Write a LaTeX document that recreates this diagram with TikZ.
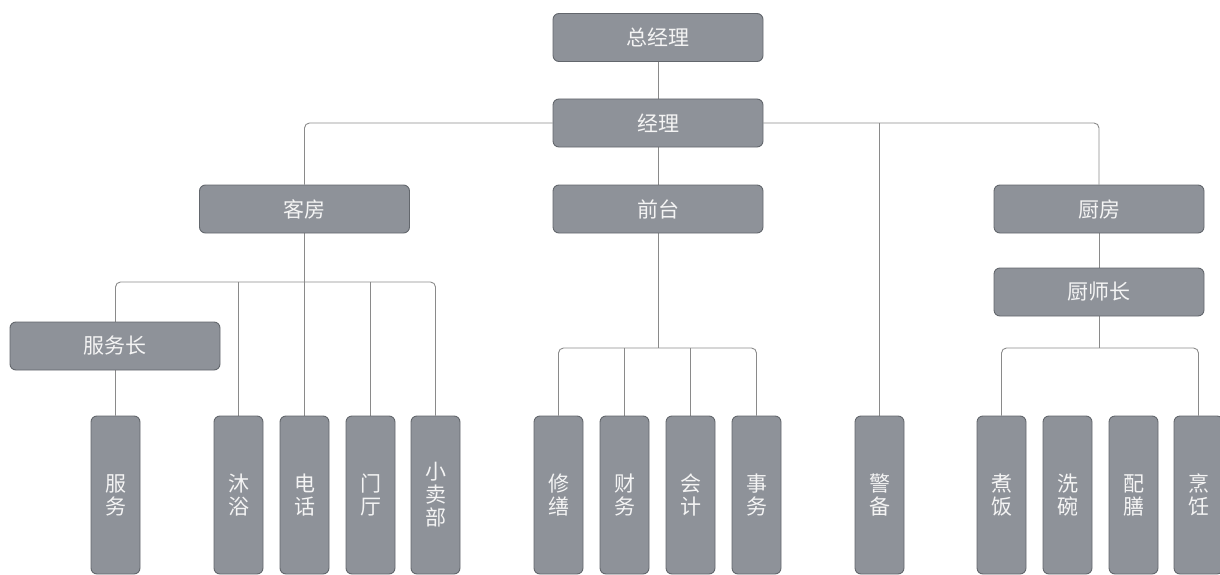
\documentclass[tikz,border=0pt]{standalone}
\usepackage{fontspec}
\newfontfamily\cjk{Noto Sans CJK SC}
\definecolor{boxfill}{HTML}{8E9299}
\definecolor{boxline}{HTML}{63676D}
\definecolor{connline}{HTML}{8A8A8A}
\definecolor{boxtext}{HTML}{F4F4F4}
\pgfdeclarelayer{bg}
\pgfsetlayers{bg,main}
\tikzset{
  hbox/.style={rectangle, rounded corners=6pt, fill=boxfill, draw=boxline, line width=0.9pt,
    minimum width=210pt, minimum height=48pt, inner sep=0pt, text=boxtext,
    font=\cjk\fontsize{21}{23}\selectfont},
  vbox/.style={rectangle, rounded corners=6pt, fill=boxfill, draw=boxline, line width=0.9pt,
    minimum width=49pt, minimum height=158pt, inner sep=0pt, text=boxtext, align=center,
    font=\cjk\fontsize{21}{23}\selectfont},
  conn/.style={draw=connline, line width=0.9pt, rounded corners=5pt}
}
\begin{document}
\begin{tikzpicture}[x=1pt,y=-1pt]
\useasboundingbox (0,0) rectangle (1220,575);
% top level
\node[hbox] (zjl) at (658,37.5) {总经理};
\node[hbox] (jl) at (658,123) {经理};
\node[hbox] (kf) at (304.5,209) {客房};
\node[hbox] (qt) at (658,209) {前台};
\node[hbox] (cf) at (1099,209) {厨房};
\node[hbox] (csz) at (1099,292) {厨师长};
\node[hbox] (fwz) at (115,346) {服务长};
% bottom row
\node[vbox] (fw) at (115.5,495) {服\\务};
\node[vbox] (my) at (238.5,495) {沐\\浴};
\node[vbox] (dh) at (304.5,495) {电\\话};
\node[vbox] (mt) at (370.5,495) {门\\厅};
\node[vbox] (xmb) at (435.5,495) {小\\卖\\部};
\node[vbox] (xs) at (558.5,495) {修\\缮};
\node[vbox] (cw) at (624.5,495) {财\\务};
\node[vbox] (kj) at (690.5,495) {会\\计};
\node[vbox] (sw) at (756.5,495) {事\\务};
\node[vbox] (jb) at (879.5,495) {警\\备};
\node[vbox] (zf) at (1001.5,495) {煮\\饭};
\node[vbox] (xw) at (1067.5,495) {洗\\碗};
\node[vbox] (ps) at (1133.5,495) {配\\膳};
\node[vbox] (pr) at (1198.5,495) {烹\\饪};
% bus coordinates
\coordinate (kbus) at (304.5,282);
\coordinate (qbus) at (658,348);
\coordinate (cbus) at (1099,348);
\begin{pgfonlayer}{bg}
\draw[conn] (zjl.south) -- (jl.north);
\draw[conn] (jl.south) -- (qt.north);
\draw[conn] (jl.west) -| (kf.north);
\draw[conn] (jl.east) -| (cf.north);
\draw[conn] (jb.north) -- (jb.north |- jl.east);
\draw[conn] (cf.south) -- (csz.north);
% kefang bus
\draw[conn] (kf.south) -- (kbus);
\draw[conn] (fw.north) -- (fw.north |- kbus) -- (xmb.north |- kbus) -- (xmb.north);
\draw[conn] (my.north) -- (my.north |- kbus);
\draw[conn] (dh.north) -- (dh.north |- kbus);
\draw[conn] (mt.north) -- (mt.north |- kbus);
% qiantai bus
\draw[conn] (qt.south) -- (qbus);
\draw[conn] (xs.north) -- (xs.north |- qbus) -- (sw.north |- qbus) -- (sw.north);
\draw[conn] (cw.north) -- (cw.north |- qbus);
\draw[conn] (kj.north) -- (kj.north |- qbus);
% chushizhang bus
\draw[conn] (csz.south) -- (cbus);
\draw[conn] (zf.north) -- (zf.north |- cbus) -- (pr.north |- cbus) -- (pr.north);
\end{pgfonlayer}
\end{tikzpicture}
\end{document}
